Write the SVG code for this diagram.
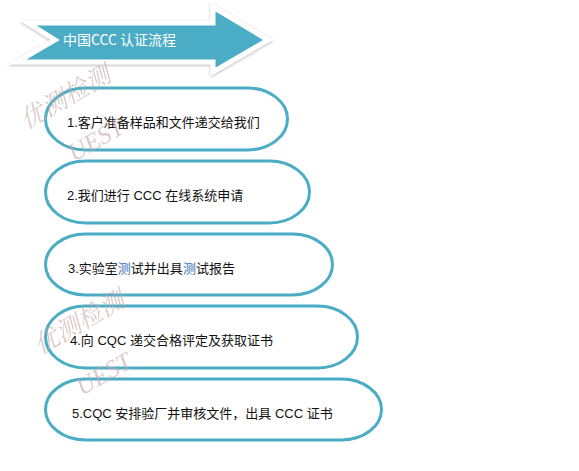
<svg xmlns="http://www.w3.org/2000/svg" width="579" height="471" viewBox="0 0 579 471">
<defs>
<filter id="sh" x="-10%" y="-20%" width="120%" height="140%">
<feDropShadow dx="0" dy="1" stdDeviation="1.6" flood-color="#888" flood-opacity="0.6"/>
</filter>
</defs>
<style>
.box{fill:#fff;stroke:#4BACC6;stroke-width:3}
.t{font-family:"Liberation Sans","Noto Sans CJK SC",sans-serif;font-size:13px;fill:#111}
.wm{font-family:"Liberation Serif","Noto Serif CJK SC","Noto Sans CJK SC",serif;font-style:italic;font-size:25px;fill:#c4a8a8;opacity:0.6}
.hl{fill:#3b6fb6}
</style>
<rect width="579" height="471" fill="#fff"/>
<g id="title">
<polygon points="28,23 213,23 213,7 268,40 213,72 213,62 17,62 55,40" fill="#4BACC6" stroke="#fff" stroke-width="5" stroke-linejoin="miter" filter="url(#sh)"/>
<text x="63" y="45" font-family="'Noto Sans CJK SC',sans-serif" font-size="14" fill="#fff">中国CCC 认证流程</text>
</g>
<g id="step1">
<rect class="box" x="45.5" y="88" width="242" height="62" rx="40" ry="31"/>
<text class="t" x="67" y="127">1.客户准备样品和文件递交给我们</text>
</g>
<g id="step2">
<rect class="box" x="45.5" y="161" width="264" height="62" rx="40" ry="31"/>
<text class="t" x="67" y="200">2.我们进行 CCC 在线系统申请</text>
</g>
<g id="step3">
<rect class="box" x="45.5" y="234" width="287" height="61" rx="40" ry="30.5"/>
<text class="t" x="68" y="273">3.实验室<tspan class="hl">测</tspan>试并出具<tspan class="hl">测</tspan>试报告</text>
</g>
<g id="step4">
<rect class="box" x="45.5" y="306" width="312" height="62" rx="40" ry="31"/>
<text class="t" x="70" y="345">4.向 CQC 递交合格评定及获取证书</text>
</g>
<g id="step5">
<rect class="box" x="45.5" y="379" width="336" height="61" rx="40" ry="30.5"/>
<text class="t" x="72" y="418">5.CQC 安排验厂并审核文件，出具 CCC 证书</text>
</g>
<g id="watermarks">
<text class="wm" transform="translate(26,130) rotate(-30)">优测检测</text>
<text class="wm" transform="translate(74,162) rotate(-30)">UEST</text>
<text class="wm" transform="translate(40,355) rotate(-30)">优测检测</text>
<text class="wm" transform="translate(82,396) rotate(-30)">UEST</text>
</g>
<g id="connectors"></g>
</svg>
